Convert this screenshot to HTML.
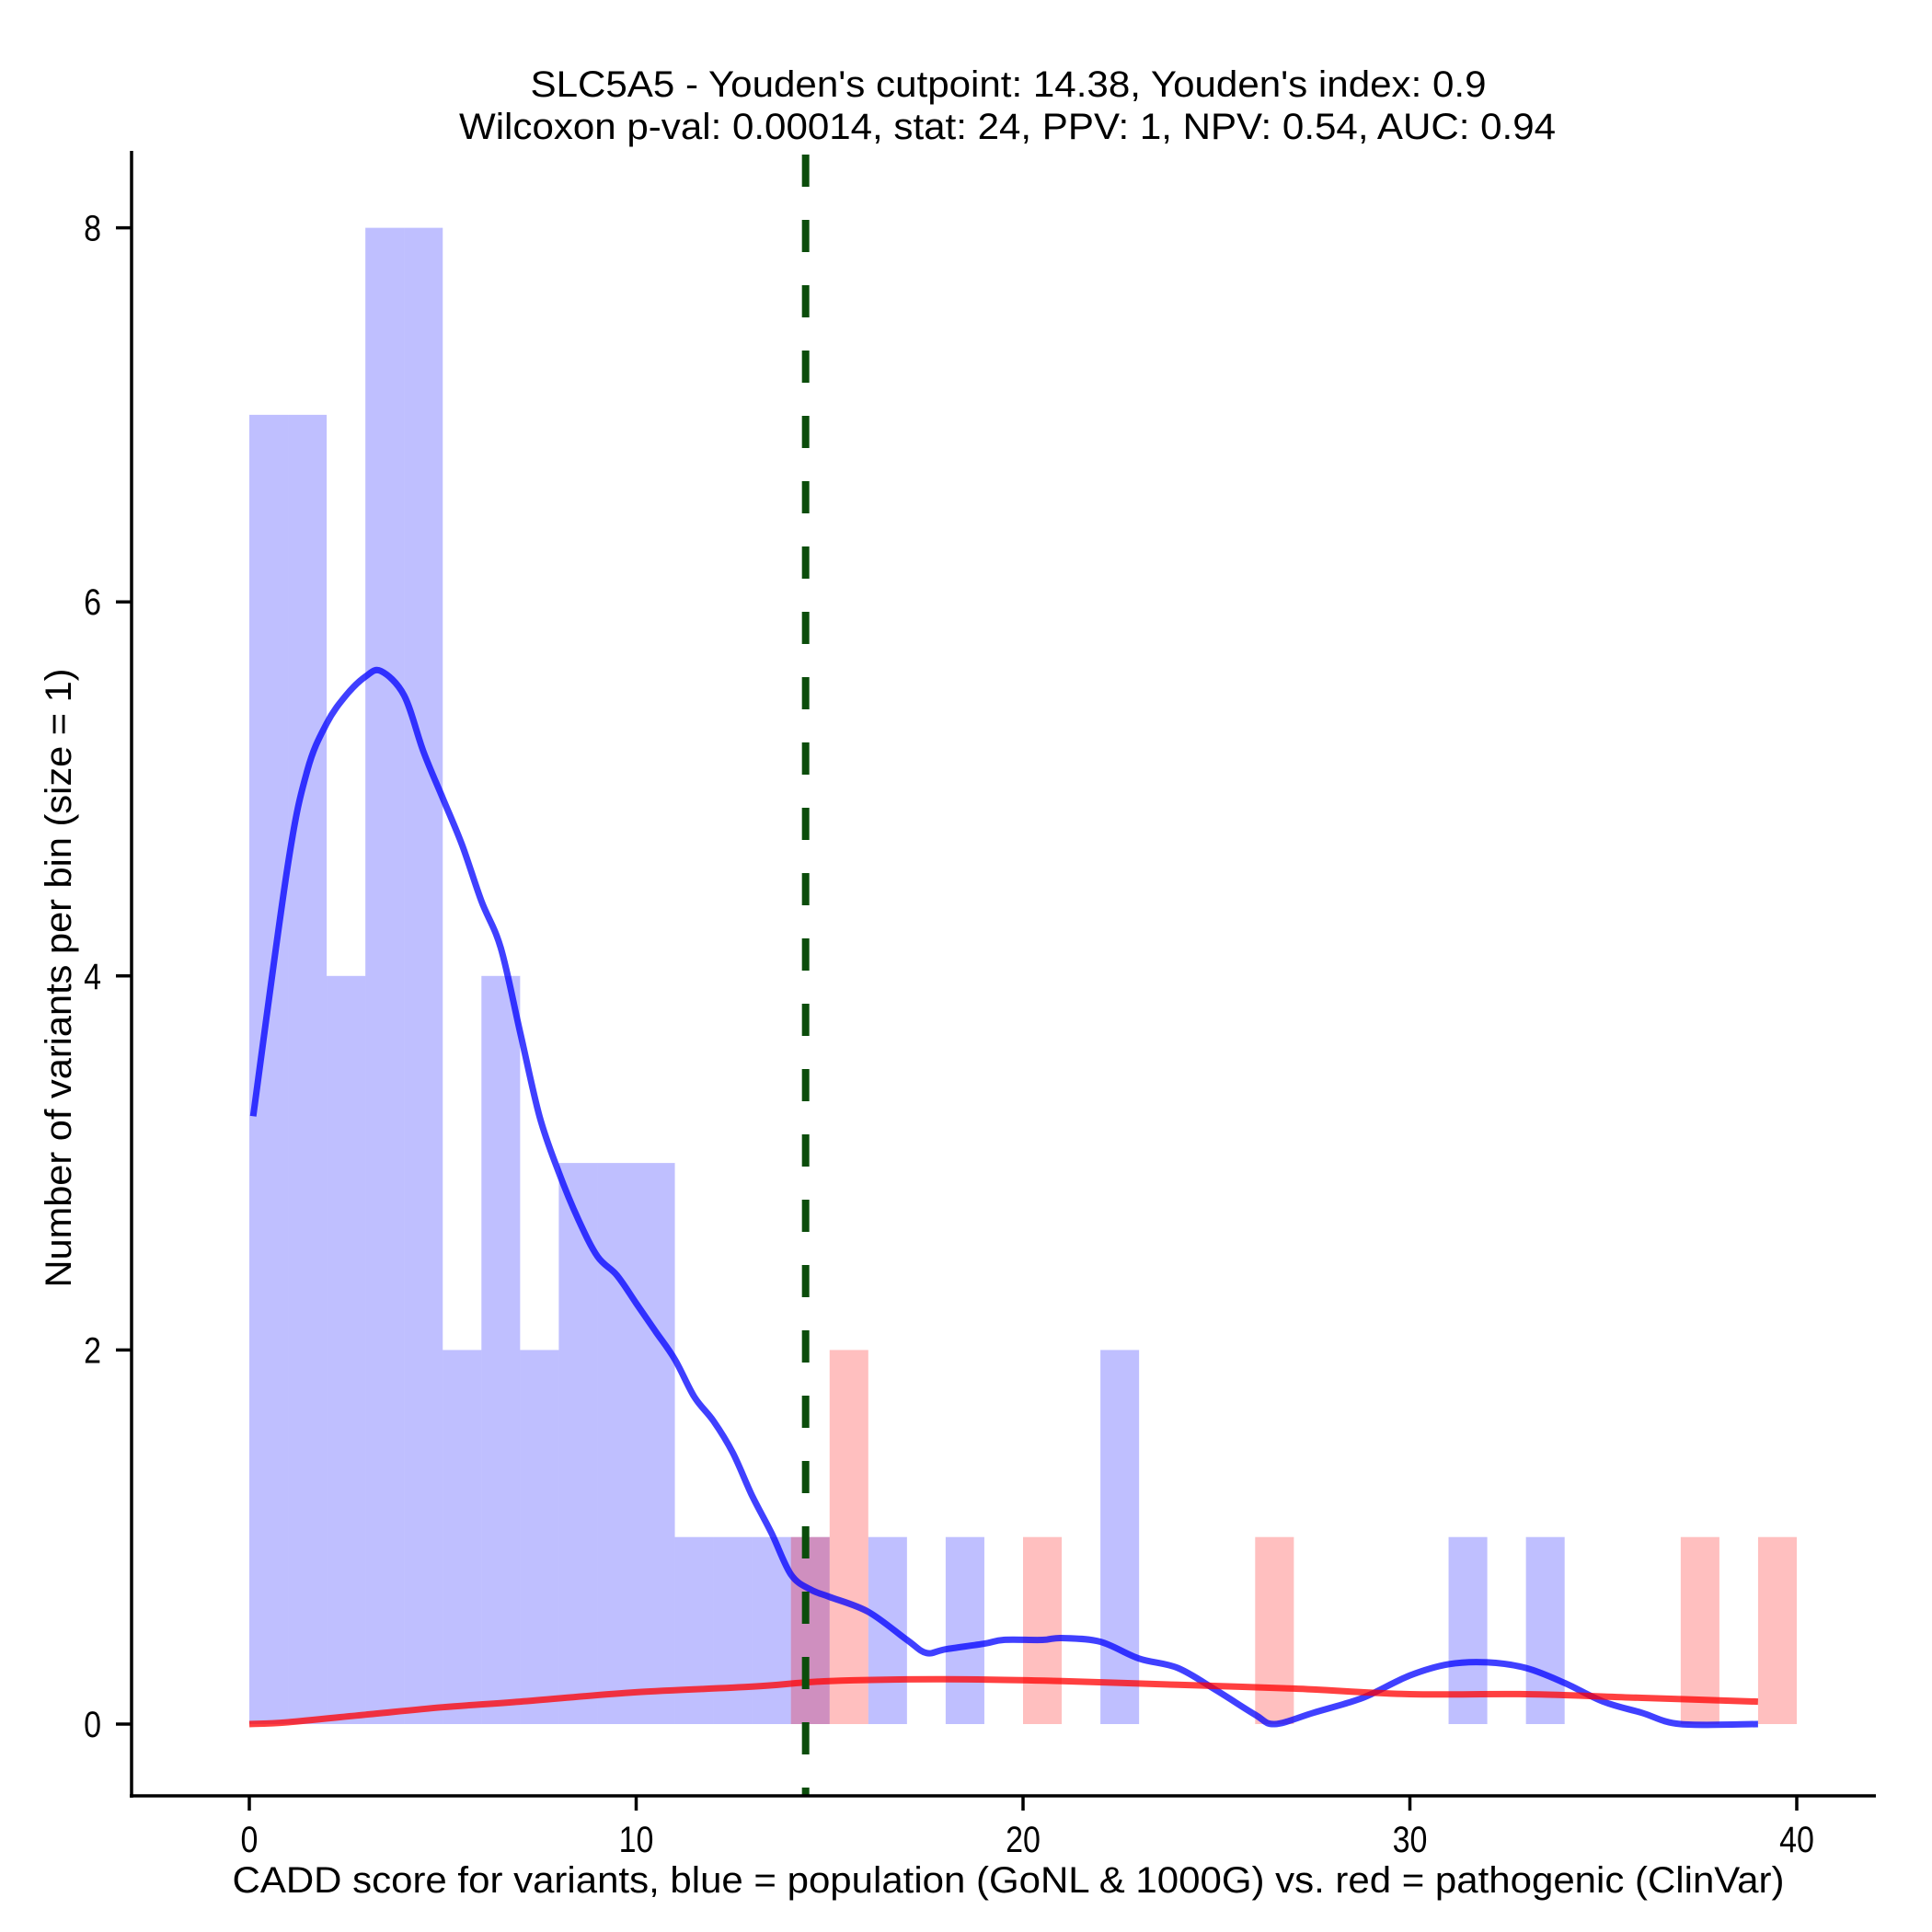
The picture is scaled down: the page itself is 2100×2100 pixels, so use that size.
<!DOCTYPE html>
<html><head><meta charset="utf-8"><style>
html,body{margin:0;padding:0;background:#fff;}
svg{display:block;font-family:"Liberation Sans",Arial,sans-serif;}
</style></head><body>
<svg id="chart" width="2100" height="2100" viewBox="0 0 2100 2100">
<g id="bars"></g>
<g id="curves"></g>
<g id="axes"></g>
<text x="1096" y="105" font-size="40" text-anchor="middle" textLength="1039" lengthAdjust="spacingAndGlyphs">SLC5A5 - Youden's cutpoint: 14.38, Youden's index: 0.9</text>
<text x="1095" y="151" font-size="40" text-anchor="middle" textLength="1192" lengthAdjust="spacingAndGlyphs">Wilcoxon p-val: 0.00014, stat: 24, PPV: 1, NPV: 0.54, AUC: 0.94</text>
<text x="1096" y="2057" font-size="40" text-anchor="middle" textLength="1687" lengthAdjust="spacingAndGlyphs">CADD score for variants, blue = population (GoNL &amp; 1000G) vs. red = pathogenic (ClinVar)</text>
<text x="0" y="0" font-size="40" text-anchor="middle" textLength="673" lengthAdjust="spacingAndGlyphs" transform="translate(77,1063) rotate(-90)">Number of variants per bin (size = 1)</text>
</svg>
<script>
const blueCounts = [7,7,4,8,8,2,4,2,3,3,3,1,1,1,1,0,1,0,1,0,0,0,2,0,0,0,0,0,0,0,0,1,0,1,0,0,0,0,0,0];
const redCounts  = [0,0,0,0,0,0,0,0,0,0,0,0,0,0,1,2,0,0,0,0,1,0,0,0,0,0,1,0,0,0,0,0,0,0,0,0,0,1,0,1];
const blueCurveX = [0.1,1,1.5,2,2.5,3,3.4,4,4.5,5,5.5,6,6.5,7,7.5,8,8.5,9,9.5,10,10.5,11,11.5,12,12.5,13,13.5,14,14.5,15,16,17,17.5,18,19,19.5,20.5,21,22,23,24,25,26,26.5,27.5,28.5,29,30,31,32,33,34,35,36,37,39];
const blueCurveY = [3.25,4.6,5.1,5.35,5.5,5.6,5.63,5.5,5.2,4.95,4.7,4.4,4.15,3.7,3.25,2.95,2.7,2.5,2.4,2.25,2.1,1.95,1.75,1.62,1.45,1.22,1.02,0.8,0.72,0.68,0.6,0.45,0.38,0.4,0.43,0.45,0.45,0.46,0.44,0.35,0.3,0.18,0.05,0,0.06,0.12,0.16,0.26,0.32,0.33,0.3,0.22,0.12,0.06,0,0];
const redCurveX = [0,1,3,5,7,10,13,15,18,21,24,27,30,33,36,39];
const redCurveY = [0,0.01,0.05,0.09,0.12,0.17,0.2,0.23,0.24,0.23,0.21,0.19,0.16,0.16,0.14,0.12];
const xTicks = [0,10,20,30,40];
const yTicks = [0,2,4,6,8];
const cutpoint = 14.38;

const NS='http://www.w3.org/2000/svg';
const X0=271, XU=42.05, Y0=1874, YU=203.3;
function sx(v){return X0+v*XU;}
function sy(v){return Y0-v*YU;}
function mk(tag,parent,attrs){const e=document.createElementNS(NS,tag);for(const k in attrs)e.setAttribute(k,attrs[k]);parent.appendChild(e);return e;}

const bars=document.getElementById('bars');
blueCounts.forEach((c,i)=>{ if(c<=0)return;
  const r=mk('rect',bars,{x:sx(i),y:sy(c),width:XU,height:sy(0)-sy(c),fill:'rgba(0,0,255,0.25)'});
  
  
});
redCounts.forEach((c,i)=>{ if(c<=0)return;
  const r=mk('rect',bars,{x:sx(i),y:sy(c),width:XU,height:sy(0)-sy(c),fill:'rgba(255,0,0,0.25)'});
  
  
});

const curves=document.getElementById('curves');
function path(xs,ys){
  const p=xs.map((x,i)=>[sx(x),sy(ys[i])]);
  let d='M'+p[0][0].toFixed(1)+','+p[0][1].toFixed(1);
  for(let i=0;i<p.length-1;i++){
    const p0=p[Math.max(0,i-1)],p1=p[i],p2=p[i+1],p3=p[Math.min(p.length-1,i+2)];
    const c1=[p1[0]+(p2[0]-p0[0])/6,p1[1]+(p2[1]-p0[1])/6];
    const c2=[p2[0]-(p3[0]-p1[0])/6,p2[1]-(p3[1]-p1[1])/6];
    d+=' C'+c1[0].toFixed(1)+','+c1[1].toFixed(1)+' '+c2[0].toFixed(1)+','+c2[1].toFixed(1)+' '+p2[0].toFixed(1)+','+p2[1].toFixed(1);
  }
  return d;
}
const bl=mk('path',curves,{d:path(blueCurveX,blueCurveY),fill:'none',stroke:'rgba(0,0,255,0.75)','stroke-width':7,'stroke-linejoin':'round'});


const rl=mk('path',curves,{d:path(redCurveX,redCurveY),fill:'none',stroke:'rgba(255,0,0,0.75)','stroke-width':7,'stroke-linejoin':'round'});


const cl=mk('line',curves,{x1:sx(cutpoint),x2:sx(cutpoint),y1:168,y2:1952,stroke:'#0b4d0b','stroke-width':8,'stroke-dasharray':'35 36'});



const axes=document.getElementById('axes');
const ya=mk('line',axes,{x1:143,x2:143,y1:164,y2:1954,stroke:'#000','stroke-width':3.5});


const xa=mk('line',axes,{x1:141,x2:2039,y1:1952,y2:1952,stroke:'#000','stroke-width':3.5});


xTicks.forEach(v=>{
  const t=mk('line',axes,{x1:sx(v),x2:sx(v),y1:1952,y2:1968,stroke:'#000','stroke-width':3.5});
  
  
  const l=mk('text',axes,{x:sx(v),y:2013,'font-size':40,'text-anchor':'middle',transform:'translate('+sx(v)+',0) scale(0.85,1) translate('+(-sx(v))+',0)'});
  l.textContent=v;
  
  
});
yTicks.forEach(v=>{
  const l=mk('text',axes,{x:110,y:sy(v)+14,'font-size':40,'text-anchor':'end',transform:'translate(110,0) scale(0.85,1) translate(-110,0)'});
  l.textContent=v;
  
  
  const t=mk('line',axes,{x1:126,x2:143,y1:sy(v),y2:sy(v),stroke:'#000','stroke-width':3.5});
  
  
});
</script>
</body></html>
